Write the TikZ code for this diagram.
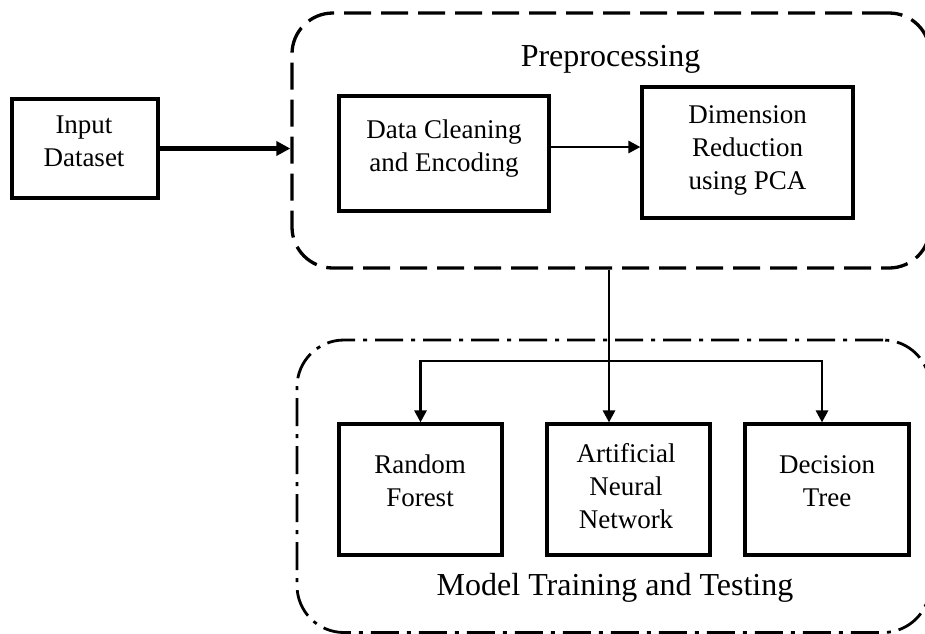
\documentclass[tikz,border=0pt]{standalone}
\usepackage{fontspec}
\setmainfont{Liberation Serif}
\usetikzlibrary{arrows.meta}
\newcommand{\stk}[1]{\begin{tabular}[t]{@{}c@{}}#1\end{tabular}}

\begin{document}
\begin{tikzpicture}[x=1pt,y=-1pt,
  blk/.style={draw,line width=3.2pt,inner sep=0pt},
  grp/.style={draw,line width=3.3pt,inner sep=0pt},
  lbl/.style={inner sep=0pt,anchor=base,font=\fontsize{27}{33}\selectfont},
  ttl/.style={inner sep=0pt,anchor=base,font=\fontsize{32}{37}\selectfont},
  arr/.style={line width=2.8pt,-{Triangle[length=12pt,width=12pt]}},
  bigarr/.style={line width=4.8pt,-{Triangle[length=14pt,width=14pt]}}]
\useasboundingbox (0,0) rectangle (925,633);

% group frames
\node[grp,rounded corners=41pt,dash pattern=on 27pt off 10pt,
      minimum width=638pt,minimum height=255pt] (pre) at (611,140.5) {};
\node[grp,line width=2.8pt,rounded corners=47pt,
      dash pattern=on 28pt off 8pt on 4pt off 8pt,
      minimum width=633pt,minimum height=292.5pt] (model) at (613.5,486.25) {};

% blocks
\node[blk,minimum width=146pt,minimum height=99pt] (inp) at (85,148.5) {};
\node[blk,minimum width=210pt,minimum height=115pt] (clean) at (444,153.5) {};
\node[blk,minimum width=211pt,minimum height=131pt] (pca) at (747.5,152.5) {};
\node[blk,minimum width=163pt,minimum height=131pt] (rf) at (420.5,489.5) {};
\node[blk,minimum width=163pt,minimum height=131pt] (ann) at (628.5,489.5) {};
\node[blk,minimum width=164pt,minimum height=131pt] (dt) at (827,489.5) {};

% labels
\node[ttl] (preT) at (610.5,66) {Preprocessing};
\node[ttl] (modelT) at (615,595) {Model Training and Testing};
\node[lbl] (inpT) at (84,133) {\stk{Input\\Dataset}};
\node[lbl] (cleanT) at (444,138) {\stk{Data Cleaning\\and Encoding}};
\node[lbl] (pcaT) at (747.5,123) {\stk{Dimension\\Reduction\\using PCA}};
\node[lbl] (rfT) at (420,473) {\stk{Random\\Forest}};
\node[lbl] (annT) at (626,462) {\stk{Artificial\\Neural\\Network}};
\node[lbl] (dtT) at (827,473) {\stk{Decision\\Tree}};

% connectors
\draw[bigarr] (inp.east) -- (inp.east -| pre.west);
\coordinate (c1) at ([yshift=6.5pt]clean.east);
\draw[arr] (c1) -- (c1 -| pca.west);
\coordinate (split) at (609,361);
\draw[arr] (split |- pre.south) -- (split |- ann.north);
\draw[arr] (split) -| (rf.north);
\draw[arr] (split) -| ([xshift=-5pt]dt.north);
\end{tikzpicture}
\end{document}
